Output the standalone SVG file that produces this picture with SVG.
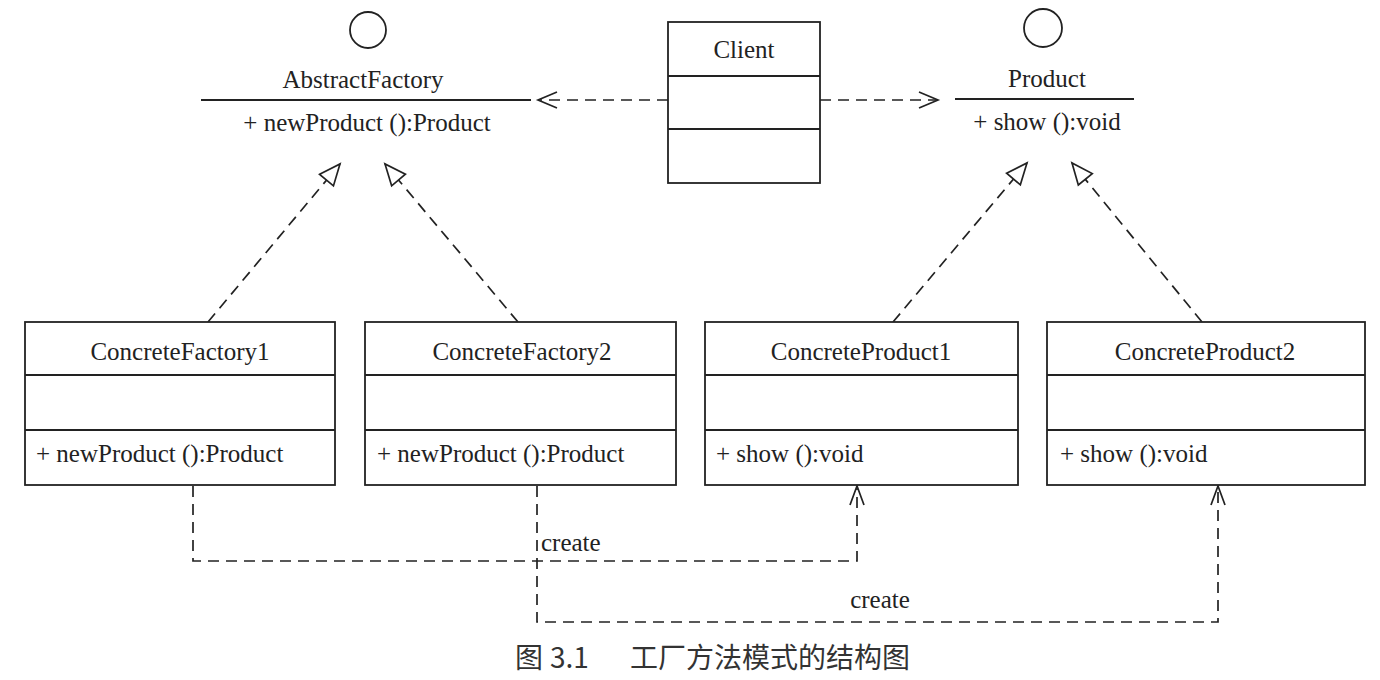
<svg xmlns="http://www.w3.org/2000/svg" width="1380" height="680" viewBox="0 0 1380 680">
<style>
.box{fill:#fff;stroke:#222;stroke-width:1.8}
.ln{stroke:#222;stroke-width:1.8;fill:none}
.dash{stroke:#222;stroke-width:1.7;fill:none;stroke-dasharray:11 7}
.t{font-family:"Liberation Serif","Times New Roman",serif;font-size:25px;fill:#222}
.c{text-anchor:middle}
.cap{font-family:"Noto Sans CJK SC","Noto Sans",sans-serif;font-size:28px;fill:#333}
</style>
<defs>
<marker id="open" markerUnits="userSpaceOnUse" markerWidth="24" markerHeight="24" refX="20" refY="10" orient="auto">
<path d="M1,2 L20,10 L1,18" fill="none" stroke="#222" stroke-width="1.7"/>
</marker>
<marker id="openN" markerUnits="userSpaceOnUse" markerWidth="24" markerHeight="24" refX="20" refY="10" orient="auto">
<path d="M1,3 L20,10 L1,17" fill="none" stroke="#222" stroke-width="1.7"/>
</marker>
<marker id="tri" markerUnits="userSpaceOnUse" markerWidth="30" markerHeight="30" refX="24" refY="12" orient="auto">
<path d="M3,3 L24,12 L3,21 Z" fill="#fff" stroke="#222" stroke-width="1.7"/>
</marker>
</defs>
<rect width="1380" height="680" fill="#fff"/>

<g id="connectors">
<line class="dash" x1="668" y1="100" x2="538" y2="100" marker-end="url(#open)"/>
<line class="dash" x1="820" y1="100" x2="938" y2="100" marker-end="url(#open)"/>
<line class="dash" x1="208" y1="322" x2="340" y2="164" marker-end="url(#tri)"/>
<line class="dash" x1="518" y1="322" x2="385" y2="164" marker-end="url(#tri)"/>
<line class="dash" x1="893" y1="322" x2="1027" y2="163" marker-end="url(#tri)"/>
<line class="dash" x1="1202" y1="322" x2="1072" y2="163" marker-end="url(#tri)"/>
<path class="dash" d="M193,486 V561 H857 V486" marker-end="url(#openN)"/>
<path class="dash" d="M537,486 V622 H1218 V486" marker-end="url(#openN)"/>
<text class="t" x="541" y="551">create</text>
<text class="t c" x="880" y="608">create</text>
</g>

<g id="AbstractFactory">
<circle cx="368" cy="30" r="18" fill="#fff" stroke="#222" stroke-width="1.8"/>
<text class="t c" x="363" y="88">AbstractFactory</text>
<line class="ln" x1="201" y1="100" x2="531" y2="100"/>
<text class="t c" x="367" y="131">+ newProduct ():Product</text>
</g>

<g id="Client">
<rect class="box" x="668" y="22" width="152" height="161"/>
<line class="ln" x1="668" y1="76" x2="820" y2="76"/>
<line class="ln" x1="668" y1="129" x2="820" y2="129"/>
<text class="t c" x="744" y="58">Client</text>
</g>

<g id="Product">
<circle cx="1043" cy="28" r="19" fill="#fff" stroke="#222" stroke-width="1.8"/>
<text class="t c" x="1047" y="87">Product</text>
<line class="ln" x1="955" y1="99" x2="1134" y2="99"/>
<text class="t c" x="1047" y="130">+ show ():void</text>
</g>

<g id="ConcreteFactory1">
<rect class="box" x="25" y="322" width="310" height="163"/>
<line class="ln" x1="25" y1="375" x2="335" y2="375"/>
<line class="ln" x1="25" y1="430" x2="335" y2="430"/>
<text class="t c" x="180" y="360">ConcreteFactory1</text>
<text class="t" x="36" y="462">+ newProduct ():Product</text>
</g>

<g id="ConcreteFactory2">
<rect class="box" x="365" y="322" width="311" height="163"/>
<line class="ln" x1="365" y1="375" x2="676" y2="375"/>
<line class="ln" x1="365" y1="430" x2="676" y2="430"/>
<text class="t c" x="522" y="360">ConcreteFactory2</text>
<text class="t" x="377" y="462">+ newProduct ():Product</text>
</g>

<g id="ConcreteProduct1">
<rect class="box" x="705" y="322" width="313" height="163"/>
<line class="ln" x1="705" y1="375" x2="1018" y2="375"/>
<line class="ln" x1="705" y1="430" x2="1018" y2="430"/>
<text class="t c" x="861" y="360">ConcreteProduct1</text>
<text class="t" x="716" y="462">+ show ():void</text>
</g>

<g id="ConcreteProduct2">
<rect class="box" x="1047" y="322" width="318" height="163"/>
<line class="ln" x1="1047" y1="375" x2="1365" y2="375"/>
<line class="ln" x1="1047" y1="430" x2="1365" y2="430"/>
<text class="t c" x="1205" y="360">ConcreteProduct2</text>
<text class="t" x="1060" y="462">+ show ():void</text>
</g>

<g id="caption">
<text class="cap" y="668"><tspan x="515">图</tspan><tspan x="550">3.1</tspan><tspan x="630">工厂方法模式的结构图</tspan></text>
</g>
</svg>
